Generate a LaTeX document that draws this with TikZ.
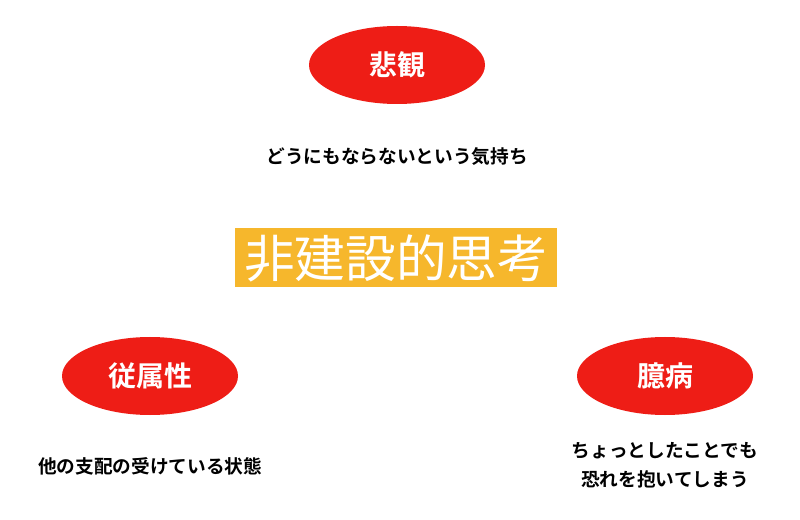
\documentclass[tikz,border=0pt]{standalone}
\usepackage{fontspec}
\newfontfamily\cjk{Noto Sans CJK JP}
\newfontfamily\cjkb{Noto Sans CJK JP Bold}
\usetikzlibrary{shapes.geometric}
\definecolor{myred}{HTML}{EE1D16}
\definecolor{myyel}{HTML}{F6B72C}
\tikzset{
 oval/.style={ellipse,fill=myred,minimum width=176*0.75pt,minimum height=78*0.75pt,inner sep=0pt,text=white,font=\cjkb\fontsize{21}{24}\selectfont},
 cap2/.style={font=\cjkb\fontsize{14}{22}\selectfont,align=center,text=black}
}
\begin{document}
\begin{tikzpicture}[x=0.75pt,y=-0.75pt]
\useasboundingbox (0,0) rectangle (800,520);
\node[oval] (a) at (397,65) {悲観};
\node[oval] (b) at (150,376) {従属性};
\node[oval] (c) at (665,376) {臆病};
\node[cap2] (ta) at (397,157) {どうにもならないという気持ち};
\node[cap2] (tb) at (150,466) {他の支配の受けている状態};
\node[cap2] (tc) at (665,465) {ちょっとしたことでも\\恐れを抱いてしまう};
\node[fill=myyel,text=white,font=\cjk\fontsize{38}{40}\selectfont,minimum width=322*0.75pt,minimum height=59*0.75pt,inner sep=0pt] (m) at (396,258) {非建設的思考};
\end{tikzpicture}
\end{document}
